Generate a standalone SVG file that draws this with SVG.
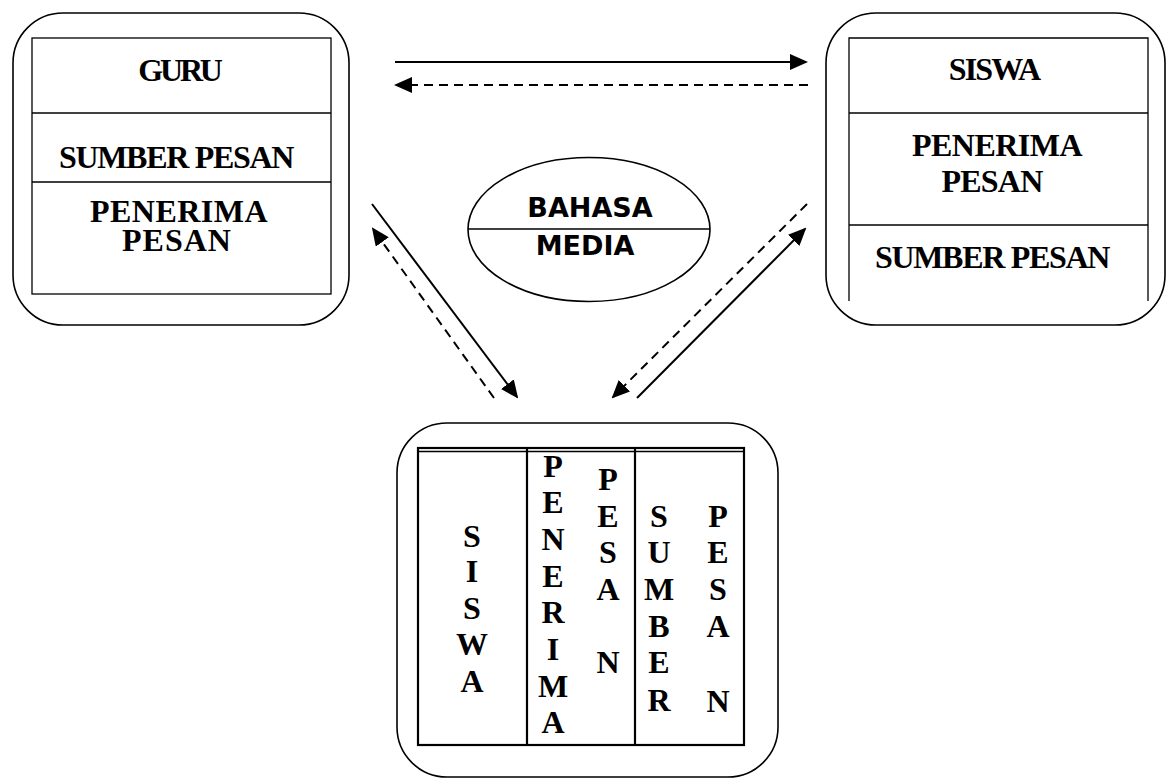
<svg xmlns="http://www.w3.org/2000/svg" width="1168" height="780" viewBox="0 0 1168 780">
<style>
.outer{fill:none;stroke:#000;stroke-width:1.6}
.inner{fill:none;stroke:#000;stroke-width:1.3}
.tbl{fill:none;stroke:#000;stroke-width:2.2}
.t{font-family:"Liberation Serif","Times New Roman",serif;font-weight:bold;font-size:32px;fill:#000;text-anchor:middle}
.s{font-family:"DejaVu Sans",sans-serif;font-weight:bold;font-size:27px;fill:#000;text-anchor:middle}
.v{font-family:"Liberation Serif","Times New Roman",serif;font-weight:bold;font-size:32px;fill:#000;text-anchor:middle}
.solid{stroke:#000;stroke-width:2;fill:none}
.dash{stroke:#000;stroke-width:2;fill:none;stroke-dasharray:9 6}
</style>
<defs>
<marker id="ah" viewBox="0 0 18 16" markerWidth="18" markerHeight="16" refX="16" refY="8" orient="auto" markerUnits="userSpaceOnUse">
<path d="M0,0 L18,8 L0,16 z" fill="#000"/>
</marker>
</defs>
<rect width="1168" height="780" fill="#fff"/>

<g id="guru">
<rect class="outer" x="13" y="13" width="336" height="312" rx="50" ry="50"/>
<rect class="inner" x="32" y="38" width="299" height="256"/>
<line class="inner" x1="32" y1="113" x2="331" y2="113"/>
<line class="inner" x1="32" y1="182" x2="331" y2="182"/>
<text class="t" x="179" y="81" letter-spacing="-3.2">GURU</text>
<text class="t" x="176" y="168" letter-spacing="-1.3">SUMBER PESAN</text>
<text class="t"><tspan x="179" y="222" letter-spacing="0.5">PENERIMA</tspan><tspan x="177" y="251" letter-spacing="1">PESAN</tspan></text>
</g>

<g id="siswa">
<rect class="outer" x="826" y="13" width="339" height="312" rx="50" ry="50"/>
<path class="inner" d="M849,301 L849,38 L1148,38 L1148,301"/>
<line class="inner" x1="849" y1="113" x2="1148" y2="113"/>
<line class="inner" x1="849" y1="225" x2="1148" y2="225"/>
<text class="t" x="994" y="80" letter-spacing="-1.8">SISWA</text>
<text class="t"><tspan x="997" y="156" letter-spacing="-0.5">PENERIMA</tspan><tspan x="992" y="192" letter-spacing="-0.8">PESAN</tspan></text>
<text class="t" x="992" y="268" letter-spacing="-1.3">SUMBER PESAN</text>
</g>

<g id="bahasa-media">
<ellipse class="outer" cx="589" cy="229.5" rx="121" ry="72"/>
<line class="outer" x1="468" y1="229" x2="710" y2="229"/>
<text class="s" x="590" y="217">BAHASA</text>
<text class="s" x="585" y="255">MEDIA</text>
</g>

<g id="siswa-bawah">
<rect class="outer" x="397" y="423" width="381" height="354" rx="50" ry="50"/>
<rect class="tbl" x="418" y="448" width="326" height="297"/>
<line class="inner" x1="418" y1="451.5" x2="744" y2="451.5"/>
<line class="tbl" x1="527" y1="448" x2="527" y2="745"/>
<line class="tbl" x1="635" y1="448" x2="635" y2="745"/>
<text class="v"><tspan x="472" y="547">S</tspan><tspan x="472" y="582">I</tspan><tspan x="472" y="619">S</tspan><tspan x="472" y="655">W</tspan><tspan x="472" y="692">A</tspan></text>
<text class="v"><tspan x="553" y="477">P</tspan><tspan x="553" y="513">E</tspan><tspan x="553" y="550">N</tspan><tspan x="553" y="587">E</tspan><tspan x="553" y="623">R</tspan><tspan x="553" y="660">I</tspan><tspan x="553" y="697">M</tspan><tspan x="553" y="733">A</tspan></text>
<text class="v"><tspan x="608" y="490">P</tspan><tspan x="608" y="527">E</tspan><tspan x="608" y="563">S</tspan><tspan x="608" y="600">A</tspan><tspan x="608" y="673">N</tspan></text>
<text class="v"><tspan x="659" y="527">S</tspan><tspan x="659" y="563">U</tspan><tspan x="659" y="600">M</tspan><tspan x="659" y="637">B</tspan><tspan x="659" y="673">E</tspan><tspan x="659" y="711">R</tspan></text>
<text class="v"><tspan x="718" y="527">P</tspan><tspan x="718" y="563">E</tspan><tspan x="718" y="600">S</tspan><tspan x="718" y="637">A</tspan><tspan x="718" y="712">N</tspan></text>
</g>

<g id="connectors">
<path class="solid" d="M395,62 L806,62" marker-end="url(#ah)"/>
<path class="dash" d="M808,85 L396,85" marker-end="url(#ah)"/>
<path class="solid" d="M372,204 L517,397" marker-end="url(#ah)"/>
<path class="dash" d="M494,398 L373,229" marker-end="url(#ah)"/>
<path class="dash" d="M807,204 L613,397" marker-end="url(#ah)"/>
<path class="solid" d="M637,398 L805,229" marker-end="url(#ah)"/>
</g>
</svg>
